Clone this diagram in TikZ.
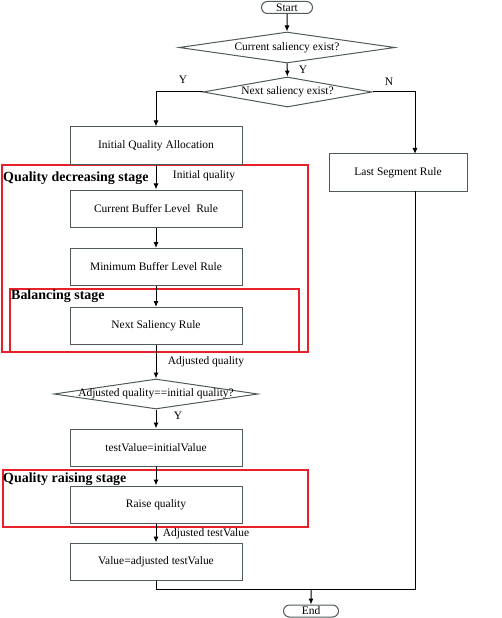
\documentclass[tikz,border=0pt]{standalone}
\usepackage{fontspec}
\setmainfont{Liberation Serif}
\usetikzlibrary{shapes.geometric,shapes.misc,arrows.meta}
\definecolor{boxgray}{RGB}{80,90,90}
\definecolor{stagered}{RGB}{232,32,42}
\tikzset{
  proc/.style={draw=boxgray, line width=1bp, rectangle, minimum width=172bp, minimum height=37bp, inner sep=0pt, font=\fontsize{11.5}{13}\selectfont},
  term/.style={draw=boxgray, line width=1bp, rounded rectangle, minimum width=51bp, minimum height=12bp, inner sep=0pt, font=\fontsize{11.5}{13}\selectfont},
  dec/.style={draw=boxgray, line width=1bp, diamond, inner sep=0pt},
  lbl/.style={inner sep=0pt, font=\fontsize{11.5}{13}\selectfont},
  stagelbl/.style={inner sep=0pt, anchor=west, font=\fontsize{14}{16}\selectfont\bfseries},
  stagebox/.style={draw=stagered, line width=1.6bp},
  arr/.style={draw=black, line width=1bp, -{Latex[length=6bp,width=5bp]}},
  ln/.style={draw=black, line width=1bp}
}
\begin{document}
\begin{tikzpicture}[x=1bp,y=-1bp]
\useasboundingbox (0,0) rectangle (502,618);
% stage boxes
\draw[stagebox] (2,165) rectangle (308,352);
\draw[stagebox] (10,289) rectangle (299,352);
\draw[stagebox] (3,470) rectangle (308,527);
\node[stagelbl] (sl1) at (3,178) {Quality decreasing stage};
\node[stagelbl] (sl2) at (11,296) {Balancing stage};
\node[stagelbl] (sl3) at (3,479) {Quality raising stage};
% nodes
\node[term] (start) at (287,7.5) {Start};
\node[dec, minimum width=216bp, minimum height=31bp, label={[lbl]center:Current saliency exist?}] (d1) at (287,47.5) {};
\node[dec, minimum width=169bp, minimum height=30bp, label={[lbl]center:Next saliency exist?}] (d2) at (287.5,92) {};
\node[proc] (iqa) at (156,145.5) {Initial Quality Allocation};
\node[proc, minimum width=138bp] (lsr) at (398,172.5) {Last Segment Rule};
\node[proc] (cblr) at (156,208.5) {Current Buffer Level\ \ Rule};
\node[proc] (mblr) at (156,267) {Minimum Buffer Level Rule};
\node[proc] (nsr) at (156,326) {Next Saliency Rule};
\node[dec, minimum width=204bp, minimum height=30bp, label={[lbl]center:Adjusted quality==initial quality?}] (d3) at (156,394) {};
\node[proc] (tv) at (156,447.5) {testValue=initialValue};
\node[proc] (rq) at (156,504.5) {Raise quality};
\node[proc] (val) at (156,561.5) {Value=adjusted testValue};
\node[term, minimum width=55bp] (end) at (311,611) {End};
% coordinates
\coordinate (lsrin) at (415,154);
\coordinate (lsrout) at (415,191);
\coordinate (jl) at (156,589);
\coordinate (jr) at (415,589);
\coordinate (jm) at (311,589);
% connectors
\draw[arr] (start) -- (d1);
\draw[arr] (d1) -- (d2);
\draw[arr] (d2.west) -| (iqa.north);
\draw[arr] (d2.east) -| (lsrin);
\draw[arr] (iqa) -- (cblr);
\draw[arr] (cblr) -- (mblr);
\draw[arr] (mblr) -- (nsr);
\draw[arr] (nsr) -- (d3);
\draw[arr] (d3) -- (tv);
\draw[arr] (tv) -- (rq);
\draw[arr] (rq) -- (val);
\draw[ln] (val.south) -- (jl) -- (jr) -- (lsrout);
\draw[arr] (jm) -- (end);
% labels
\node[lbl] (y1) at (303,70) {Y};
\node[lbl] (y2) at (183,80) {Y};
\node[lbl] (n1) at (389,82) {N};
\node[lbl] (iq) at (204,176) {Initial quality};
\node[lbl] (aq) at (206,362) {Adjusted quality};
\node[lbl] (y3) at (178,416) {Y};
\node[lbl] (atv) at (206,534) {Adjusted testValue};
\end{tikzpicture}
\end{document}
